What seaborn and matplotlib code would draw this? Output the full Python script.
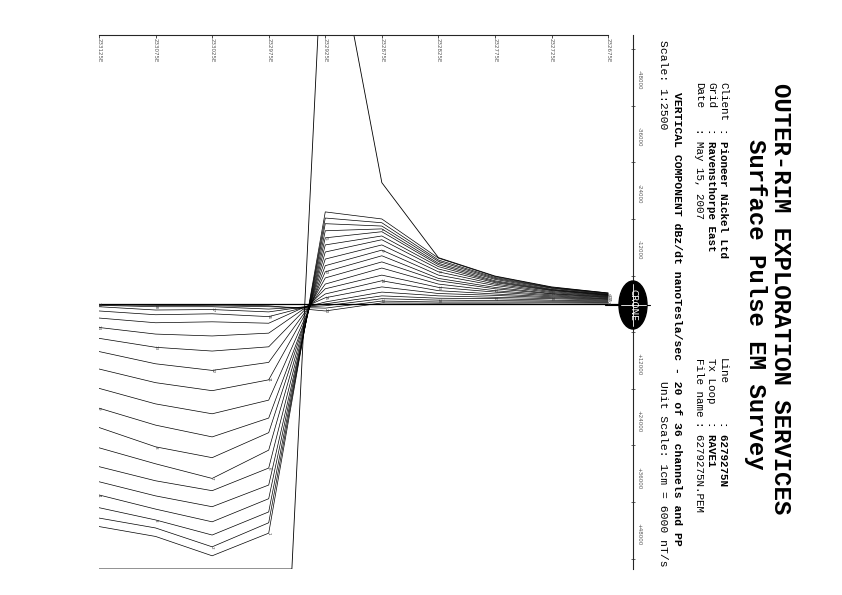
import numpy as np
import pandas as pd
import seaborn as sns
import matplotlib.pyplot as plt
import matplotlib.transforms as mtrans
from matplotlib.patches import Ellipse
from matplotlib.lines import Line2D
from matplotlib.ticker import MultipleLocator

# stations along the line (easting), left to right on the sheet
stations = [233125, 233075, 233025, 232975, 232925, 232875, 232825, 232775, 232725, 232675]
station_labels = [f"{s}E" for s in stations]

# primary pulse (nT/s), runs off the plot box near the loop edge
pp = [70000, 85000, 110000, 157000, -89000, -25700, -9800, -5900, -3600, -2300]

# channels 1..20 (nT/s)
ch1 = [47200, 49300, 53400, 48600, -19500, -18000, -9700, -5800, -3500, -2300]
ch2 = [45400, 47500, 51500, 46400, -18200, -17200, -9300, -5600, -3400, -2200]
ch3 = [43200, 45800, 49000, 44100, -17000, -16500, -9000, -5400, -3300, -2100]
ch4 = [40500, 43500, 46200, 41300, -15500, -15900, -8600, -5200, -3100, -2000]
ch5 = [37700, 40700, 43000, 38400, -14000, -15300, -8300, -4900, -3000, -1950]
ch6 = [34500, 37500, 39600, 34800, -12500, -14400, -7900, -4700, -2900, -1850]
ch7 = [30500, 33900, 37000, 31000, -11000, -13600, -7400, -4500, -2800, -1800]
ch8 = [26200, 30300, 32600, 27300, -9500, -12500, -6800, -4200, -2600, -1700]
ch9 = [22100, 25700, 28200, 24200, -8100, -11400, -6100, -3900, -2400, -1600]
ch10 = [17900, 21200, 23300, 20400, -6800, -10200, -5400, -3500, -2200, -1500]
ch11 = [13800, 16700, 18400, 16100, -5500, -8900, -4900, -3200, -2100, -1400]
ch12 = [10100, 12700, 14100, 12400, -4200, -7600, -4200, -2800, -1900, -1300]
ch13 = [7300, 9200, 10000, 9100, -3200, -6100, -3500, -2500, -1700, -1150]
ch14 = [5000, 6400, 6800, 6200, -2100, -4900, -2800, -2100, -1500, -1050]
ch15 = [3000, 4000, 3800, 4100, -1300, -3600, -2200, -1800, -1300, -950]
ch16 = [1500, 2300, 2100, 2700, -400, -2500, -1700, -1400, -1100, -800]
ch17 = [600, 1300, 1200, 1700, 0, -1700, -1200, -1100, -800, -650]
ch18 = [300, 600, 600, 1100, 400, -1100, -800, -700, -600, -500]
ch19 = [200, 300, 400, 600, 900, -600, -400, -400, -400, -300]
ch20 = [150, 200, 200, 400, 1500, -200, -150, -150, -200, -150]

amp_ticks = [-48000, -36000, -24000, -12000, 12000, 24000, 36000, 48000]
amp_labels = ["-48000", "-36000", "-24000", "-12000", "+12000", "+24000", "+36000", "+48000"]

channels = [ch1, ch2, ch3, ch4, ch5, ch6, ch7, ch8, ch9, ch10,
            ch11, ch12, ch13, ch14, ch15, ch16, ch17, ch18, ch19, ch20]

# plot box limits (the PEM plot clips to these)
Y_TOP, Y_BOTTOM = -57000, 56200
X_LEFT, X_RIGHT = 233125, 232653


def clip_line(xs, ys, lo, hi):
    """Clip a polyline to lo..hi, adding the points where it meets the box edge."""
    out_x = [xs[0]]
    out_y = [min(max(ys[0], lo), hi)]
    for x0, y0, x1, y1 in zip(xs[:-1], ys[:-1], xs[1:], ys[1:]):
        cuts = []
        for lim in (lo, hi):
            if (y0 - lim) * (y1 - lim) < 0:
                t = (lim - y0) / (y1 - y0)
                cuts.append((t, x0 + t * (x1 - x0), lim))
        for t, cx, cy in sorted(cuts):
            out_x.append(cx)
            out_y.append(cy)
        out_x.append(x1)
        out_y.append(min(max(y1, lo), hi))
    return out_x, out_y


rows = []
for c, vals in enumerate(channels, start=1):
    for s, v in zip(stations, vals):
        rows.append({"channel": c, "station": s, "value": v})
df = pd.DataFrame(rows)

sns.set_style("white")
plt.rcParams['font.family'] = ['Liberation Mono', 'DejaVu Sans Mono']

W, H = 842, 595
fig = plt.figure(figsize=(W / 100, H / 100), dpi=100)


def fx(px):
    return px / W


def fy(py):
    return 1 - py / H


ax = fig.add_axes([fx(99), fy(569), (633 - 99) / W, (569 - 35) / H])
ax.set_xlim(X_LEFT, X_RIGHT)
ax.set_ylim(Y_BOTTOM, Y_TOP)

sns.lineplot(data=df, x="station", y="value", units="channel", estimator=None,
             sort=False, color="black", lw=0.5, legend=False, ax=ax)

pp_x, pp_y = clip_line(stations, pp, Y_TOP, Y_BOTTOM)
sns.lineplot(x=pp_x, y=pp_y, estimator=None, sort=False, color="black", lw=0.6, ax=ax)

ax.hlines(0, stations[0], X_RIGHT, color="black", lw=0.9)

# channel numbers written on the curves, staggered every 5 stations
for c, vals in enumerate(channels, start=1):
    for i, (s, v) in enumerate(zip(stations, vals)):
        if (i + c) % 5 == 4:
            ax.text(s, v, str(c), rotation=-90, fontsize=3, ha="center", va="center",
                    color="#333333", family="DejaVu Sans")

# station axis on top
for side in ["left", "bottom"]:
    ax.spines[side].set_visible(False)
ax.spines["top"].set_bounds(stations[-1], stations[0])
ax.spines["top"].set_linewidth(0.8)
ax.spines["right"].set_linewidth(0.8)
ax.xaxis.set_ticks_position("top")
ax.set_xticks(stations)
ax.set_xticklabels(station_labels, rotation=-90, fontsize=4, color="#555555", family="DejaVu Sans")
for lbl in ax.get_xticklabels():
    lbl.set_va("top")
ax.tick_params(axis="x", direction="in", length=2, width=0.6, pad=-2.5)
ax.set_xlabel("")

# amplitude axis on the right: marks between the labelled values
ax.yaxis.set_ticks_position("right")
ax.set_yticks(amp_ticks)
ax.set_yticklabels(amp_labels, rotation=-90, fontsize=4, color="#555555", family="DejaVu Sans")
ax.yaxis.set_minor_locator(MultipleLocator(6000))
ax.tick_params(axis="y", which="major", length=0, pad=2.5)
ax.tick_params(axis="y", which="minor", direction="inout", length=2.5, width=0.5)
lift = mtrans.ScaledTranslation(0, 5 / 100, fig.dpi_scale_trans)
for lbl in ax.get_yticklabels():
    lbl.set_transform(lbl.get_transform() + lift)
ax.set_ylabel("")

# Crone logo at the origin of the amplitude axis
fig.add_artist(Ellipse((6.33, (H - 305) / 100), 0.28, 0.48, transform=fig.dpi_scale_trans,
                       facecolor="black", edgecolor="black", zorder=10))
fig.add_artist(Line2D([fx(605), fx(650)], [fy(305), fy(305)], color="black", lw=0.8, zorder=9))
fig.add_artist(Line2D([fx(621), fx(646)], [fy(305), fy(305)], color="white", lw=0.6, zorder=11))
fig.add_artist(Line2D([fx(633), fx(633)], [fy(284), fy(326)], color="white", lw=0.6, zorder=11))
fig.text(fx(633), fy(305), "CRONE", rotation=-90, rotation_mode="anchor", ha="center", va="center",
         color="white", fontsize=6.5, family="DejaVu Sans", zorder=12)


# header block, written sideways like the sheet
def side_text(px, py, s, ha="left", **kw):
    fig.text(fx(px), fy(py), s, rotation=-90, rotation_mode="anchor", ha=ha, va="center",
             color="black", **kw)


side_text(780, 299, "OUTER-RIM EXPLORATION SERVICES", ha="center", fontsize=17.3, weight="bold")
side_text(755, 304, "Surface Pulse EM Survey", ha="center", fontsize=17.3, weight="bold")

side_text(723, 82, "Client", fontsize=7.8)
side_text(723, 128, ": Pioneer Nickel Ltd", fontsize=7.8, weight="bold")
side_text(711, 82, "Grid", fontsize=7.8)
side_text(711, 128, ": Ravensthorpe East", fontsize=7.8, weight="bold")
side_text(699, 82, "Date", fontsize=7.8)
side_text(699, 128, ": May 15, 2007", fontsize=7.8)

side_text(723, 358, "Line", fontsize=7.8)
side_text(723, 421, ": 6279275N", fontsize=7.8, weight="bold")
side_text(711, 358, "Tx Loop", fontsize=7.8)
side_text(711, 421, ": RAVE1", fontsize=7.8, weight="bold")
side_text(699, 358, "File name", fontsize=7.8)
side_text(699, 421, ": 6279275N.PEM", fontsize=7.8)

side_text(677, 92, "VERTICAL COMPONENT dBz/dt nanoTesla/sec - 20 of 36 channels and PP",
          fontsize=8.2, weight="bold")
side_text(663, 40, "Scale: 1:2500", fontsize=8.2)
side_text(663, 567, "Unit Scale: 1cm = 6000 nT/s", ha="right", fontsize=8.2)

fig.savefig("out.png", dpi=100, facecolor="white")
